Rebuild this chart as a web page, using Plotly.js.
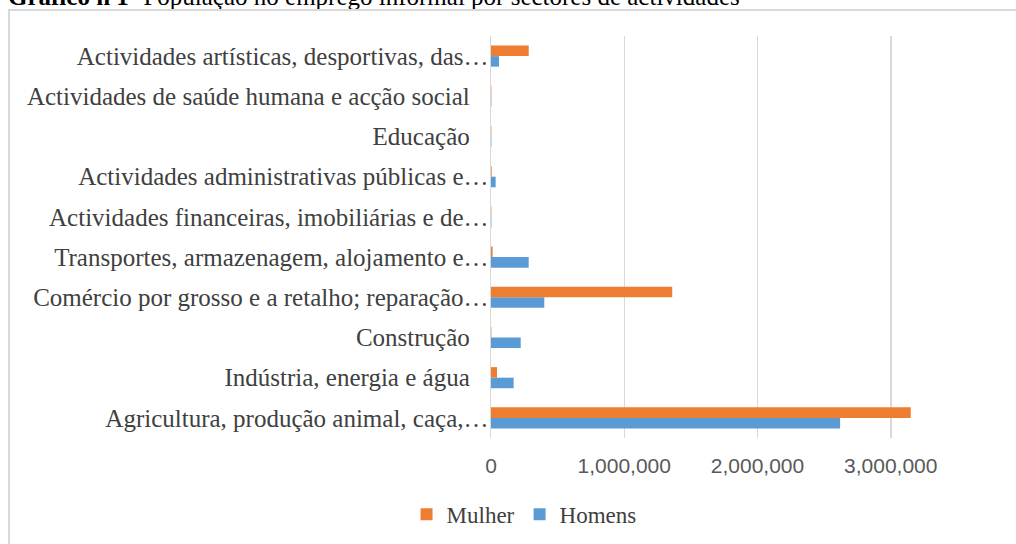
<!DOCTYPE html>
<html>
<head>
<meta charset="utf-8">
<script src="https://cdn.plot.ly/plotly-3.0.1.min.js"></script>
<style>
html,body{margin:0;padding:0;width:1016px;height:544px;overflow:hidden;background:#fff;}
#title{position:absolute;left:8px;top:-16px;font-family:"Liberation Serif","Times New Roman",serif;font-size:25px;line-height:25px;color:#000;white-space:nowrap;}
#box{position:absolute;left:8px;top:9px;width:1040px;height:560px;border:2px solid #d9d9d9;}
</style>
</head>
<body>
<div id="title"><b>Gráfico n 1-</b> População no emprego informal por sectores de actividades</div>
<div id="box"><div id="chart" style="width:1040px;height:560px;"></div></div>
<script>
const categories = [
  "Agricultura", "Indústria", "Construção", "Comércio", "Transportes",
  "Financeiras", "Administrativas", "Educação", "Saúde", "Artísticas"
];
const tickLabels = [
  "Agricultura, produção animal, caça,…",
  "Indústria, energia e água\u00A0\u00A0\u00A0",
  "Construção\u00A0\u00A0\u00A0",
  "Comércio por grosso e a retalho; reparação…",
  "Transportes, armazenagem, alojamento e…",
  "Actividades financeiras, imobiliárias e de…",
  "Actividades administrativas públicas e…",
  "Educação\u00A0\u00A0\u00A0",
  "Actividades de saúde humana e acção social\u00A0\u00A0\u00A0",
  "Actividades artísticas, desportivas, das…"
];
const homens = [2620000, 170000, 223000, 400000, 283000, 3000, 35000, 3000, 3000, 60000];
const mulher = [3150000, 45000, 3000, 1360000, 12000, 3000, 5000, 3000, 3000, 283000];
const xTickVals = [0, 1000000, 2000000, 3000000, 4000000];

const traces = [
  {type:'bar', orientation:'h', name:'Homens', y:categories, x:homens,
   marker:{color:'#5B9BD5'}, hoverinfo:'x+name'},
  {type:'bar', orientation:'h', name:'Mulher', y:categories, x:mulher,
   marker:{color:'#ED7D31'}, hoverinfo:'x+name'}
];

const layout = {
  width:1040, height:560,
  margin:{l:481, r:26, t:25, b:133},
  paper_bgcolor:'#fff', plot_bgcolor:'#fff',
  barmode:'group', bargap:0.475, bargroupgap:0,
  showlegend:true,
  legend:{orientation:'h', traceorder:'reversed', x:0.062, xanchor:'center', y:-0.19, yanchor:'middle',
    itemwidth:30,
    font:{family:'"Liberation Serif","Times New Roman",serif', size:23, color:'#404040'}},
  xaxis:{range:[0,4000000], tickvals:xTickVals, tickformat:',d',
    showgrid:true, gridcolor:'#d9d9d9', gridwidth:1.5, zeroline:false, showline:false,
    ticks:'', ticklabelstandoff:13,
    tickfont:{family:'"Liberation Sans",Arial,sans-serif', size:21, color:'#595959'}},
  yaxis:{type:'category', tickvals:categories, ticktext:tickLabels, range:[-0.5,9.5],
    showgrid:false, zeroline:false, showline:true, linecolor:'#d9d9d9', linewidth:1.5,
    ticks:'', ticklabelstandoff:-4,
    tickfont:{family:'"Liberation Serif","Times New Roman",serif', size:25, color:'#404040'}},
  font:{family:'"Liberation Serif",serif'}
};
Plotly.newPlot('chart', traces, layout, {displayModeBar:false, staticPlot:true});
</script>
</body>
</html>
